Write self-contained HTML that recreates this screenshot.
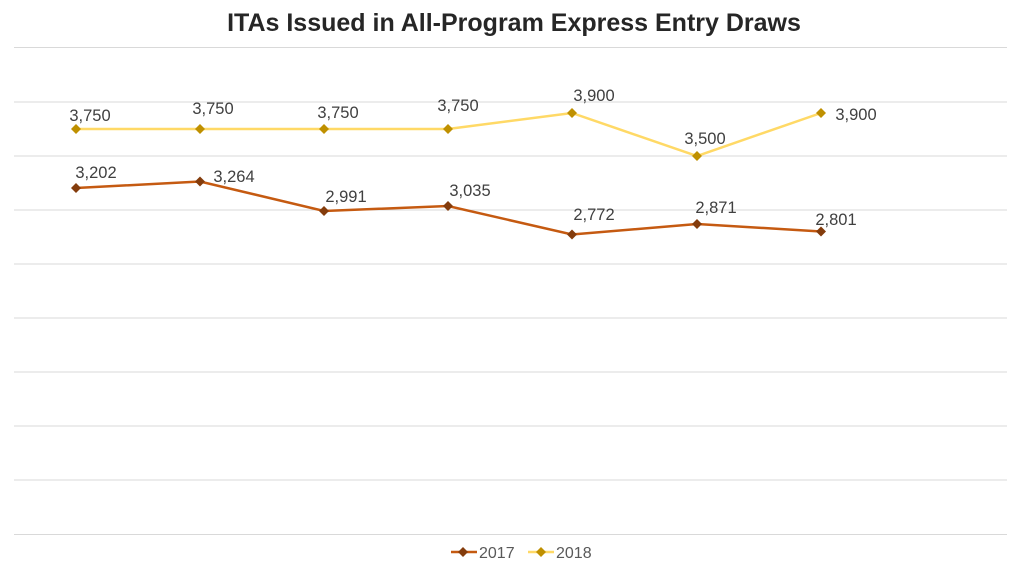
<!DOCTYPE html>
<html><head><meta charset="utf-8"><style>
html,body{margin:0;padding:0;background:#fff;}
svg{display:block;font-family:"Liberation Sans",Arial,sans-serif;}
</style></head><body>
<svg width="1024" height="568" viewBox="0 0 1024 568">
<text x="514" y="31" text-anchor="middle" font-size="25" font-weight="bold" fill="#262626">ITAs Issued in All-Program Express Entry Draws</text>
<g stroke="#d9d9d9" stroke-width="1">
<line x1="14" x2="1007" y1="47.5" y2="47.5"/>
<line x1="14" x2="1007" y1="102" y2="102"/>
<line x1="14" x2="1007" y1="156" y2="156"/>
<line x1="14" x2="1007" y1="210" y2="210"/>
<line x1="14" x2="1007" y1="264" y2="264"/>
<line x1="14" x2="1007" y1="318" y2="318"/>
<line x1="14" x2="1007" y1="372" y2="372"/>
<line x1="14" x2="1007" y1="426" y2="426"/>
<line x1="14" x2="1007" y1="480" y2="480"/>
<line x1="14" x2="1007" y1="534.5" y2="534.5"/>
</g>
<polyline fill="none" stroke="#ffd966" stroke-width="2.5" points="76,129 200,129 324,129 448,129 572,113 697,156 821,113"/>
<polyline fill="none" stroke="#c55a11" stroke-width="2.5" points="76,188 200,181.5 324,211 448,206 572,234.5 697,224 821,231.5"/>
<g fill="#bf9000">
<path d="M76,124l5,5l-5,5l-5,-5z"/><path d="M200,124l5,5l-5,5l-5,-5z"/><path d="M324,124l5,5l-5,5l-5,-5z"/><path d="M448,124l5,5l-5,5l-5,-5z"/><path d="M572,108l5,5l-5,5l-5,-5z"/><path d="M697,151l5,5l-5,5l-5,-5z"/><path d="M821,108l5,5l-5,5l-5,-5z"/>
</g>
<g fill="#843c0c">
<path d="M76,183l5,5l-5,5l-5,-5z"/><path d="M200,176.5l5,5l-5,5l-5,-5z"/><path d="M324,206l5,5l-5,5l-5,-5z"/><path d="M448,201l5,5l-5,5l-5,-5z"/><path d="M572,229.5l5,5l-5,5l-5,-5z"/><path d="M697,219l5,5l-5,5l-5,-5z"/><path d="M821,226.5l5,5l-5,5l-5,-5z"/>
</g>
<g font-size="16.5" fill="#404040" text-anchor="middle">
<text x="90" y="121">3,750</text><text x="213" y="114">3,750</text><text x="338" y="118">3,750</text><text x="458" y="111">3,750</text><text x="594" y="101">3,900</text><text x="705" y="144">3,500</text><text x="856" y="120">3,900</text>
<text x="96" y="178">3,202</text><text x="234" y="182">3,264</text><text x="346" y="202">2,991</text><text x="470" y="196">3,035</text><text x="594" y="220">2,772</text><text x="716" y="213">2,871</text><text x="836" y="225">2,801</text>
</g>
<line x1="451" x2="477" y1="552" y2="552" stroke="#c55a11" stroke-width="2.5"/>
<path d="M463,547l5,5l-5,5l-5,-5z" fill="#843c0c"/>
<text x="479" y="558" font-size="16" fill="#595959">2017</text>
<line x1="528" x2="554" y1="552" y2="552" stroke="#ffd966" stroke-width="2.5"/>
<path d="M541,547l5,5l-5,5l-5,-5z" fill="#bf9000"/>
<text x="556" y="558" font-size="16" fill="#595959">2018</text>
</svg>
</body></html>
